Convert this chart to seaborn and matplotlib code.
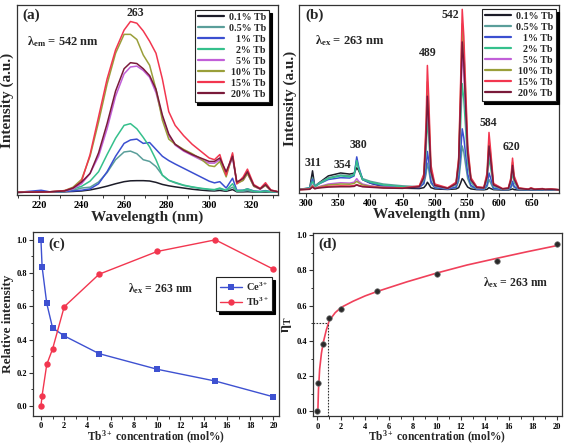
import matplotlib
matplotlib.use("Agg")
import matplotlib.pyplot as plt
from matplotlib.ticker import MultipleLocator, NullLocator
import seaborn as sns

# ---- (a) excitation spectra, lambda_em = 542 nm (normalised to 15% peak)
wl_a = [210, 221, 225, 232, 236, 240, 244, 248, 252, 256, 260, 263, 266, 269, 272, 275, 278,
        281, 284, 288, 292, 296, 300, 302.5, 305, 308, 311, 313, 316, 318, 321, 324, 326.5, 329, 332]
exc_01 = [0, 0.002, 0.002, 0.003, 0.005, 0.008, 0.014, 0.024, 0.036, 0.05, 0.062, 0.067, 0.068, 0.068,
          0.066, 0.058, 0.046, 0.038, 0.032, 0.025, 0.018, 0.013, 0.009, 0.008, 0.011, 0.006, 0.016,
          0.003, 0.003, 0.004, 0.002, 0.002, 0.002, 0.002, 0.002]
exc_05 = [0, 0.002, 0.002, 0.005, 0.012, 0.025, 0.03, 0.06, 0.115, 0.19, 0.235, 0.24, 0.225, 0.19,
          0.18, 0.15, 0.10, 0.07, 0.055, 0.04, 0.03, 0.022, 0.016, 0.014, 0.02, 0.01, 0.03, 0.006,
          0.006, 0.01, 0.004, 0.003, 0.005, 0.002, 0.002]
exc_1 = [0, 0.012, 0.003, 0.005, 0.008, 0.012, 0.02, 0.05, 0.12, 0.21, 0.285, 0.305, 0.31, 0.285,
         0.29, 0.25, 0.21, 0.185, 0.165, 0.14, 0.115, 0.09, 0.065, 0.055, 0.062, 0.025, 0.082, 0.012,
         0.012, 0.02, 0.008, 0.005, 0.01, 0.004, 0.002]
exc_2 = [0, 0.002, 0.002, 0.006, 0.02, 0.035, 0.065, 0.12, 0.22, 0.315, 0.39, 0.40, 0.37, 0.32,
         0.265, 0.19, 0.10, 0.07, 0.058, 0.042, 0.032, 0.024, 0.018, 0.016, 0.025, 0.012, 0.05, 0.008,
         0.012, 0.02, 0.006, 0.004, 0.008, 0.003, 0.002]
exc_5 = [0, 0.002, 0.003, 0.007, 0.02, 0.05, 0.11, 0.21, 0.37, 0.56, 0.69, 0.73, 0.735, 0.71, 0.67,
         0.58, 0.44, 0.33, 0.275, 0.24, 0.215, 0.19, 0.17, 0.17, 0.19, 0.11, 0.20, 0.055, 0.07, 0.11,
         0.035, 0.018, 0.04, 0.01, 0.004]
exc_10 = [0, 0.002, 0.003, 0.01, 0.03, 0.075, 0.21, 0.41, 0.63, 0.81, 0.92, 0.92, 0.89, 0.80, 0.74,
          0.60, 0.42, 0.31, 0.28, 0.25, 0.225, 0.195, 0.155, 0.15, 0.18, 0.09, 0.22, 0.05, 0.07, 0.11,
          0.035, 0.02, 0.04, 0.01, 0.004]
exc_15 = [0, 0.002, 0.003, 0.01, 0.025, 0.065, 0.22, 0.44, 0.66, 0.83, 0.945, 0.995, 0.985, 0.94,
          0.88, 0.81, 0.66, 0.47, 0.39, 0.33, 0.28, 0.24, 0.20, 0.19, 0.22, 0.10, 0.23, 0.05, 0.09,
          0.135, 0.045, 0.023, 0.056, 0.014, 0.005]
exc_20 = [0, 0.002, 0.003, 0.008, 0.025, 0.06, 0.11, 0.23, 0.40, 0.59, 0.72, 0.755, 0.75, 0.72, 0.68,
          0.60, 0.45, 0.34, 0.28, 0.245, 0.22, 0.20, 0.18, 0.18, 0.20, 0.12, 0.21, 0.06, 0.08, 0.12,
          0.04, 0.02, 0.045, 0.012, 0.004]

# ---- (b) emission spectra, lambda_ex = 263 nm (normalised to 15% 542 nm peak)
wl_b = [290, 306, 310.5, 314, 320, 335, 354, 368, 375, 379, 382, 388, 400, 420, 450, 476, 483,
        486.5, 488.5, 490.5, 494, 500, 520, 533, 537, 540, 542.5, 545, 548, 551, 556, 565, 576,
        581, 584, 586.5, 591, 605, 614, 618, 620.5, 623, 630, 645, 649, 655, 667, 671, 680, 693]
em_01 = [0.005, 0.01, 0.108, 0.02, 0.04, 0.08, 0.096, 0.09, 0.095, 0.125,
         0.11, 0.06, 0.04, 0.02, 0.012, 0.01, 0.015, 0.03, 0.045, 0.035,
         0.015, 0.008, 0.005, 0.008, 0.015, 0.04, 0.065, 0.055, 0.035, 0.018,
         0.008, 0.004, 0.003, 0.006, 0.015, 0.01, 0.004, 0.002, 0.002, 0.005,
         0.008, 0.004, 0.002, 0.002, 0.002, 0.002, 0.002, 0.002, 0.002, 0.002]
em_05 = [0.005, 0.015, 0.07, 0.025, 0.04, 0.07, 0.085, 0.08, 0.09, 0.17,
         0.12, 0.065, 0.05, 0.035, 0.025, 0.02, 0.035, 0.09, 0.15, 0.115,
         0.04, 0.015, 0.008, 0.015, 0.05, 0.15, 0.245, 0.21, 0.135, 0.065,
         0.02, 0.008, 0.005, 0.02, 0.06, 0.042, 0.008, 0.004, 0.004, 0.015,
         0.035, 0.016, 0.004, 0.003, 0.004, 0.003, 0.003, 0.003, 0.003, 0.002]
em_1 = [0.005, 0.012, 0.06, 0.02, 0.035, 0.06, 0.07, 0.068, 0.08, 0.185,
        0.13, 0.06, 0.04, 0.025, 0.018, 0.015, 0.04, 0.125, 0.215, 0.165,
        0.05, 0.015, 0.007, 0.018, 0.07, 0.21, 0.34, 0.29, 0.19, 0.09,
        0.028, 0.008, 0.006, 0.03, 0.096, 0.068, 0.012, 0.004, 0.005, 0.02,
        0.05, 0.022, 0.005, 0.003, 0.005, 0.003, 0.004, 0.003, 0.004, 0.002]
em_2 = [0.005, 0.012, 0.05, 0.02, 0.035, 0.065, 0.08, 0.075, 0.085, 0.165,
        0.12, 0.06, 0.045, 0.03, 0.02, 0.02, 0.06, 0.22, 0.40, 0.30,
        0.085, 0.022, 0.01, 0.03, 0.11, 0.36, 0.59, 0.50, 0.33, 0.15,
        0.045, 0.012, 0.01, 0.055, 0.18, 0.126, 0.022, 0.006, 0.008, 0.04,
        0.10, 0.045, 0.008, 0.004, 0.008, 0.004, 0.006, 0.004, 0.005, 0.003]
em_5 = [0.004, 0.008, 0.03, 0.012, 0.02, 0.035, 0.042, 0.04, 0.045, 0.065,
        0.05, 0.035, 0.025, 0.018, 0.014, 0.02, 0.07, 0.28, 0.50, 0.375,
        0.10, 0.025, 0.01, 0.035, 0.14, 0.46, 0.77, 0.655, 0.425, 0.19,
        0.055, 0.015, 0.012, 0.07, 0.23, 0.16, 0.028, 0.007, 0.01, 0.052,
        0.13, 0.058, 0.01, 0.005, 0.01, 0.005, 0.007, 0.004, 0.006, 0.003]
em_10 = [0.004, 0.007, 0.025, 0.01, 0.018, 0.03, 0.035, 0.034, 0.038, 0.05,
         0.042, 0.03, 0.022, 0.016, 0.013, 0.022, 0.08, 0.33, 0.60, 0.45,
         0.12, 0.03, 0.012, 0.04, 0.17, 0.55, 0.92, 0.78, 0.50, 0.23,
         0.065, 0.018, 0.014, 0.085, 0.28, 0.196, 0.034, 0.008, 0.012, 0.062,
         0.155, 0.07, 0.012, 0.006, 0.012, 0.006, 0.008, 0.005, 0.007, 0.003]
em_15 = [0.004, 0.006, 0.02, 0.01, 0.015, 0.022, 0.025, 0.024, 0.026, 0.032,
         0.028, 0.022, 0.02, 0.015, 0.013, 0.025, 0.09, 0.38, 0.69, 0.52,
         0.14, 0.035, 0.014, 0.045, 0.18, 0.60, 1.0, 0.85, 0.55, 0.25,
         0.07, 0.02, 0.016, 0.096, 0.32, 0.224, 0.038, 0.01, 0.014, 0.071,
         0.178, 0.08, 0.014, 0.007, 0.014, 0.007, 0.01, 0.006, 0.008, 0.004]
em_20 = [0.004, 0.006, 0.018, 0.009, 0.013, 0.018, 0.02, 0.02, 0.022, 0.03,
         0.025, 0.02, 0.017, 0.013, 0.011, 0.02, 0.07, 0.29, 0.52, 0.39,
         0.105, 0.027, 0.011, 0.037, 0.15, 0.49, 0.82, 0.70, 0.45, 0.205,
         0.058, 0.016, 0.013, 0.074, 0.245, 0.172, 0.03, 0.008, 0.011, 0.055,
         0.138, 0.062, 0.011, 0.005, 0.011, 0.005, 0.008, 0.005, 0.006, 0.003]

series_labels = ["0.1% Tb", "0.5% Tb", "1% Tb", "2% Tb", "5% Tb", "10% Tb", "15% Tb", "20% Tb"]
series_colors = ["#1c1c28", "#5a9e9a", "#3b4fd0", "#35c08c", "#c15fd8", "#9a9f3a", "#f2364f", "#7a1a3a"]

# ---- (c) relative intensity vs Tb concentration
conc = [0, 0.1, 0.5, 1, 2, 5, 10, 15, 20]
ce_rel = [1.0, 0.837, 0.617, 0.47, 0.422, 0.315, 0.221, 0.15, 0.055]
tb_rel = [0.0, 0.063, 0.25, 0.343, 0.597, 0.793, 0.93, 1.0, 0.823]

# ---- (d) energy transfer efficiency
eta_T = [0.0, 0.162, 0.383, 0.53, 0.578, 0.685, 0.782, 0.852, 0.948]
fit_conc = [0.05, 0.1, 0.2, 0.35, 0.5, 0.75, 1, 1.5, 2, 3, 4, 5, 7.5, 10, 12.5, 15, 17.5, 20]
fit_eta = [0.0, 0.12, 0.24, 0.33, 0.39, 0.46, 0.515, 0.56, 0.59, 0.625, 0.655, 0.68, 0.735,
           0.785, 0.83, 0.868, 0.905, 0.94]

sns.set_style("ticks")
plt.rcParams["font.family"] = ["Liberation Serif", "DejaVu Serif"]
plt.rcParams["font.weight"] = "bold"
plt.rcParams["axes.labelweight"] = "bold"
plt.rcParams["mathtext.fontset"] = "custom"
plt.rcParams["mathtext.rm"] = "Liberation Serif:bold"
plt.rcParams["mathtext.bf"] = "Liberation Serif:bold"
plt.rcParams["mathtext.it"] = "Liberation Serif:bold:italic"
plt.rcParams["axes.edgecolor"] = "#333333"
plt.rcParams["axes.linewidth"] = 0.9
plt.rcParams["xtick.color"] = "#333333"
plt.rcParams["ytick.color"] = "#333333"
plt.rcParams["xtick.labelcolor"] = "black"
plt.rcParams["ytick.labelcolor"] = "black"

fig = plt.figure(figsize=(5.64, 4.46), dpi=100)
ax_a = fig.add_axes([0.0296, 0.5628, 0.4638, 0.426])
ax_b = fig.add_axes([0.5307, 0.5679, 0.461, 0.4209])
ax_c = fig.add_axes([0.059, 0.067, 0.4362, 0.4135])
ax_d = fig.add_axes([0.5555, 0.0665, 0.4404, 0.4104])


def right_align_legend(leg):
    # shift the shorter labels so that all right edges line up
    fig.canvas.draw()
    renderer = fig.canvas.get_renderer()
    widths = [t.get_window_extent(renderer).width for t in leg.get_texts()]
    w = max(widths)
    for t, wi in zip(leg.get_texts(), widths):
        t.set_position((w - wi, 0))


def spectrum_legend(ax, anchor):
    leg = ax.legend(loc="upper right", bbox_to_anchor=anchor, fontsize=7.2, frameon=True,
                    fancybox=False, edgecolor="#222222", framealpha=1, borderpad=0.3,
                    labelspacing=0.2, handlelength=2.6, handletextpad=0.5, borderaxespad=0,
                    shadow={"color": "black", "alpha": 1})
    leg.get_frame().set_linewidth(0.8)
    for h in leg.get_lines():
        h.set_linewidth(1.6)
    return leg


# panel (a)
exc_series = [exc_01, exc_05, exc_1, exc_2, exc_5, exc_10, exc_15, exc_20]
for vals, lab, col in zip(exc_series, series_labels, series_colors):
    sns.lineplot(x=wl_a, y=vals, ax=ax_a, color=col, lw=1.1, label=lab, sort=False, estimator=None)
ax_a.set_xlim(209.5, 332.5)
ax_a.set_ylim(-0.0155, 1.091)
ax_a.xaxis.set_major_locator(MultipleLocator(20))
ax_a.xaxis.set_minor_locator(MultipleLocator(10))
ax_a.yaxis.set_major_locator(NullLocator())
ax_a.tick_params(axis="x", which="major", length=3, width=0.8, labelsize=7.5, pad=1.5)
ax_a.tick_params(axis="x", which="minor", length=1.8, width=0.7)
ax_a.set_xlabel("Wavelength (nm)", fontsize=11, labelpad=0)
ax_a.set_ylabel("Intensity (a.u.)", fontsize=11, labelpad=2)
ax_a.text(0.057, 0.947, "(a)", transform=ax_a.transAxes, fontsize=11, ha="center", va="center")
ax_a.text(0.452, 0.959, "263", transform=ax_a.transAxes, fontsize=8.5, ha="center", va="center")
ax_a.text(0.038, 0.807, "λ$_{\\mathrm{em}}$ = 542 nm", transform=ax_a.transAxes, fontsize=9,
          ha="left", va="center")
leg_a = spectrum_legend(ax_a, (0.964, 0.974))

# panel (b)
em_series = [em_01, em_05, em_1, em_2, em_5, em_10, em_15, em_20]
for vals, lab, col in zip(em_series, series_labels, series_colors):
    sns.lineplot(x=wl_b, y=vals, ax=ax_b, color=col, lw=1.1, label=lab, sort=False, estimator=None)
ax_b.set_xlim(290, 693)
ax_b.set_ylim(-0.013, 1.024)
ax_b.xaxis.set_major_locator(MultipleLocator(50))
ax_b.xaxis.set_minor_locator(MultipleLocator(25))
ax_b.yaxis.set_major_locator(NullLocator())
ax_b.tick_params(axis="x", which="major", length=3, width=0.8, labelsize=7, pad=1.5)
ax_b.tick_params(axis="x", which="minor", length=1.8, width=0.7)
ax_b.set_xlabel("Wavelength (nm)", fontsize=11, labelpad=0)
ax_b.set_ylabel("Intensity (a.u.)", fontsize=11, labelpad=2)
ax_b.text(0.06, 0.947, "(b)", transform=ax_b.transAxes, fontsize=11, ha="center", va="center")
ax_b.text(0.06, 0.81, "λ$_{\\mathrm{ex}}$ = 263 nm", transform=ax_b.transAxes, fontsize=9,
          ha="left", va="center")
for xp, yp, txt in [(311, 0.152, "311"), (356, 0.14, "354"), (381, 0.25, "380"), (489, 0.757, "489"),
                    (524, 0.97, "542"), (583, 0.372, "584"), (619, 0.24, "620")]:
    ax_b.text(xp, yp, txt, fontsize=8.5, ha="center", va="center")
leg_b = spectrum_legend(ax_b, (0.987, 0.979))

# panel (c)
sns.lineplot(x=conc, y=ce_rel, ax=ax_c, color="#3e51d1", lw=1.0, marker="s", markersize=4.2,
             markeredgewidth=0, label="Ce$^{3+}$", sort=False, estimator=None)
sns.lineplot(x=conc, y=tb_rel, ax=ax_c, color="#f2364f", lw=1.0, marker="o", markersize=4.6,
             markeredgewidth=0, label="Tb$^{3+}$", sort=False, estimator=None)
ax_c.set_xlim(-0.66, 20.5)
ax_c.set_ylim(-0.061, 1.049)
ax_c.xaxis.set_major_locator(MultipleLocator(2))
ax_c.xaxis.set_minor_locator(MultipleLocator(1))
ax_c.yaxis.set_major_locator(MultipleLocator(0.2))
ax_c.yaxis.set_minor_locator(MultipleLocator(0.1))
ax_c.tick_params(which="major", length=3, width=0.8, labelsize=6, pad=1.5)
ax_c.tick_params(which="minor", length=1.8, width=0.7)
ax_c.yaxis.set_major_formatter(plt.FormatStrFormatter("%.1f"))
ax_c.set_xlabel("Tb$^{3+}$ concentration (mol%)", fontsize=8.3, labelpad=-1)
ax_c.set_ylabel("Relative intensity", fontsize=9.5, labelpad=2)
ax_c.text(0.095, 0.934, "(c)", transform=ax_c.transAxes, fontsize=11, ha="center", va="center")
ax_c.text(7.5, 0.704, "λ$_{\\mathrm{ex}}$ = 263 nm", fontsize=8.5, ha="left", va="center")
leg_c = ax_c.legend(loc="upper right", bbox_to_anchor=(0.97, 0.753), fontsize=7.5, frameon=True,
                    fancybox=False, edgecolor="#222222", framealpha=1, borderpad=0.3,
                    labelspacing=0.25, handlelength=2.2, handletextpad=0.3, borderaxespad=0,
                    shadow={"color": "black", "alpha": 1})
leg_c.get_frame().set_linewidth(0.8)

# panel (d)
sns.lineplot(x=fit_conc, y=fit_eta, ax=ax_d, color="#f0405a", lw=1.2, sort=False, estimator=None)
sns.scatterplot(x=conc, y=eta_T, ax=ax_d, color="#2a2a2a", s=16, edgecolor="#777777",
                linewidth=0.5, zorder=5)
ax_d.plot([-0.33, 0.92], [0.5, 0.5], color="#333333", lw=0.8, ls=(0, (1.5, 1.2)))
ax_d.plot([0.92, 0.92], [-0.028, 0.5], color="#333333", lw=0.8, ls=(0, (1.5, 1.2)))
ax_d.set_xlim(-0.33, 20.42)
ax_d.set_ylim(-0.028, 1.01)
ax_d.xaxis.set_major_locator(MultipleLocator(2))
ax_d.xaxis.set_minor_locator(MultipleLocator(1))
ax_d.yaxis.set_major_locator(MultipleLocator(0.2))
ax_d.yaxis.set_minor_locator(MultipleLocator(0.1))
ax_d.tick_params(which="major", length=3, width=0.8, labelsize=6, pad=1.5)
ax_d.tick_params(which="minor", length=1.8, width=0.7)
ax_d.yaxis.set_major_formatter(plt.FormatStrFormatter("%.1f"))
ax_d.set_xlabel("Tb$^{3+}$ concentration (mol%)", fontsize=8.3, labelpad=-1)
ax_d.set_ylabel("η$_{\\mathrm{T}}$", fontsize=10, labelpad=2)
ax_d.text(0.059, 0.942, "(d)", transform=ax_d.transAxes, fontsize=11, ha="center", va="center")
ax_d.text(13.84, 0.731, "λ$_{\\mathrm{ex}}$ = 263 nm", fontsize=8.5, ha="left", va="center")

for ax in (ax_a, ax_b, ax_c, ax_d):
    for sp in ax.spines.values():
        sp.set_visible(True)

right_align_legend(leg_a)
right_align_legend(leg_b)

fig.savefig("out.png", dpi=100)
